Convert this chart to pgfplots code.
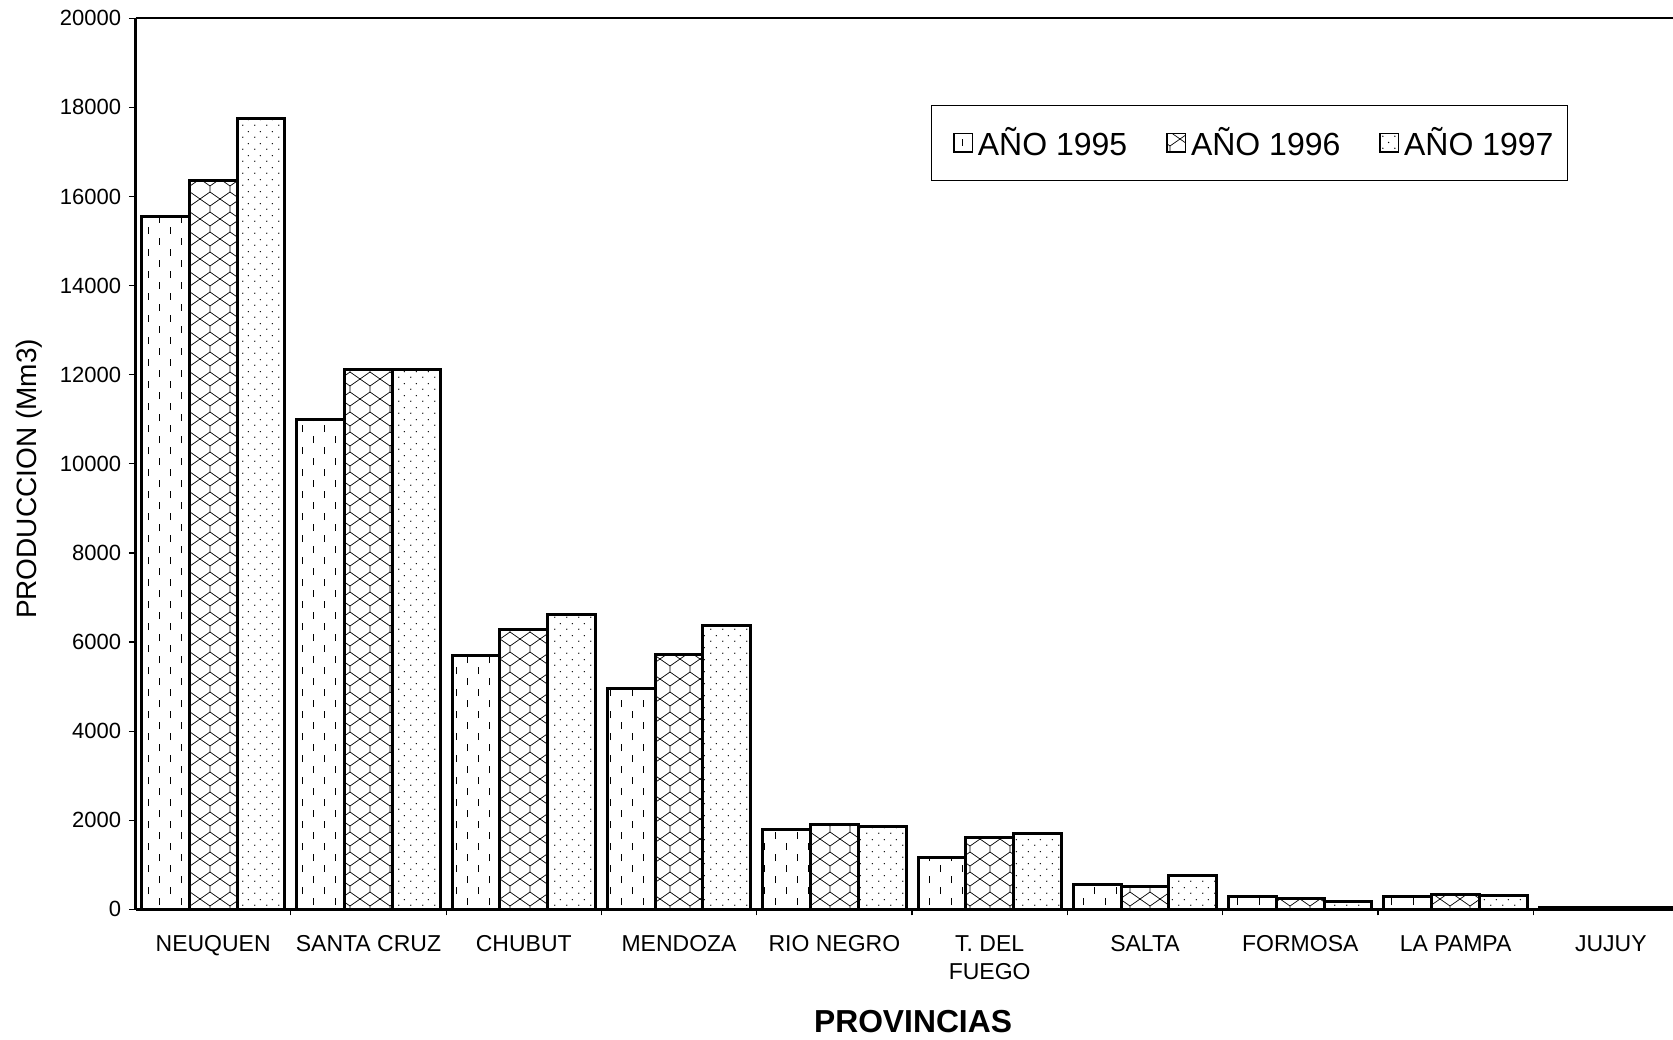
\documentclass[border=0pt]{standalone}
\usepackage{fontspec}
\setmainfont{Liberation Sans}
\usepackage{pgfplots}
\pgfplotsset{compat=1.18}
\usetikzlibrary{patterns}

\pgfdeclarepatternformonly{vdash}{\pgfqpoint{-1pt}{-1pt}}{\pgfqpoint{12pt}{12pt}}{\pgfqpoint{11pt}{11pt}}{%
  \pgfsetlinewidth{0.45pt}%
  \pgfpathmoveto{\pgfqpoint{2.75pt}{1pt}}\pgfpathlineto{\pgfqpoint{2.75pt}{4.5pt}}%
  \pgfpathmoveto{\pgfqpoint{8.25pt}{6.5pt}}\pgfpathlineto{\pgfqpoint{8.25pt}{10pt}}%
  \pgfusepath{stroke}}
\pgfdeclarepatternformonly{weave}{\pgfqpoint{-1pt}{-1pt}}{\pgfqpoint{11pt}{11pt}}{\pgfqpoint{10pt}{10pt}}{%
  \pgfsetlinewidth{0.35pt}%
  \pgfpathmoveto{\pgfqpoint{0pt}{10pt}}\pgfpathlineto{\pgfqpoint{5pt}{6.5pt}}\pgfpathlineto{\pgfqpoint{10pt}{10pt}}%
  \pgfpathmoveto{\pgfqpoint{5pt}{6.5pt}}\pgfpathlineto{\pgfqpoint{5pt}{3.5pt}}%
  \pgfpathmoveto{\pgfqpoint{0pt}{0pt}}\pgfpathlineto{\pgfqpoint{5pt}{3.5pt}}\pgfpathlineto{\pgfqpoint{10pt}{0pt}}%
  \pgfusepath{stroke}}
\pgfdeclarepatternformonly{sdots}{\pgfqpoint{0pt}{0pt}}{\pgfqpoint{6pt}{6pt}}{\pgfqpoint{6pt}{6pt}}{%
  \pgfpathcircle{\pgfqpoint{1.5pt}{1.5pt}}{0.4pt}%
  \pgfpathcircle{\pgfqpoint{4.5pt}{4.5pt}}{0.4pt}%
  \pgfusepath{fill}}

\begin{document}
\begin{tikzpicture}
\begin{axis}[
  scale only axis, width=768.75pt, height=445.5pt,
  xmin=-0.5, xmax=9.4, ymin=0, ymax=20000,
  axis lines*=left,
  axis line style={line width=1.2pt},
  ytick={0,2000,...,20000},
  scaled y ticks=false,
  xtick={0,...,9},
  xticklabels={NEUQUEN, SANTA CRUZ, CHUBUT, MENDOZA, RIO NEGRO, {T. DEL\\FUEGO}, SALTA, FORMOSA, LA PAMPA, JUJUY},
  every major x tick/.append style={draw=none},
  minor xtick={0.5,1.5,...,8.5},
  tick align=outside,
  major tick length=3.3pt, minor tick length=3pt,
  tick style={black, line width=0.6pt},
  /pgf/number format/assume math mode=true,
  /pgf/number format/1000 sep={},
  yticklabel style={font=\fontsize{11}{13}\selectfont, anchor=east, inner sep=0pt, xshift=-3.7pt},
  xticklabel style={font=\fontsize{11.5}{14}\selectfont, align=center, anchor=north, inner sep=0pt, yshift=-9.8pt},
  ylabel={PRODUCCION (Mm3)},
  ylabel style={font=\fontsize{14}{16}\selectfont, at={([xshift=-49.4pt]axis description cs:0,0.483)}, anchor=base},
  xlabel={PROVINCIAS},
  xlabel style={font=\fontsize{15.9}{18}\selectfont\bfseries, at={([yshift=-61.6pt]axis description cs:0.5057,0)}, anchor=base},
  legend columns=3,
  legend style={at={(axis description cs:0.5177,0.9031)}, anchor=north west, draw=black, line width=0.5pt,
    font=\fontsize{16}{19}\selectfont, inner xsep=5pt, inner ysep=9pt,
    /tikz/every even column/.append style={column sep=11.9pt}},
  legend image code/.code={\path (0pt,0pt) (14.45pt,0pt);
    \draw[#1, line width=0.7pt] (5.2pt,-4.6pt) rectangle (14.45pt,4.6pt);},
]
\addplot[ybar, bar width=0.3077, bar shift=-0.3077, draw=black, line width=1.5pt, pattern=vdash]
  coordinates {(0,15550) (1,11000) (2,5700) (3,4950) (4,1800) (5,1170) (6,550) (7,290) (8,290) (9,30)};
\addplot[ybar, bar width=0.3077, bar shift=0, draw=black, line width=1.5pt, pattern=weave]
  coordinates {(0,16370) (1,12120) (2,6270) (3,5710) (4,1910) (5,1620) (6,510) (7,240) (8,330) (9,30)};
\addplot[ybar, bar width=0.3077, bar shift=0.3077, draw=black, line width=1.5pt, pattern=sdots]
  coordinates {(0,17750) (1,12120) (2,6610) (3,6370) (4,1860) (5,1700) (6,750) (7,180) (8,310) (9,30)};
\legend{AÑO 1995, AÑO 1996, AÑO 1997}
\coordinate (bl) at (rel axis cs:0,0);
\coordinate (tl) at (rel axis cs:0,1);
\coordinate (tr) at (rel axis cs:1,1);
\end{axis}
\draw[line width=0.8pt] (tl) -- (tr);
\pgfresetboundingbox
\path ([shift={(-67.75pt,-64.85pt)}]bl) rectangle ([shift={(0pt,9.15pt)}]tr);
\end{tikzpicture}
\end{document}
